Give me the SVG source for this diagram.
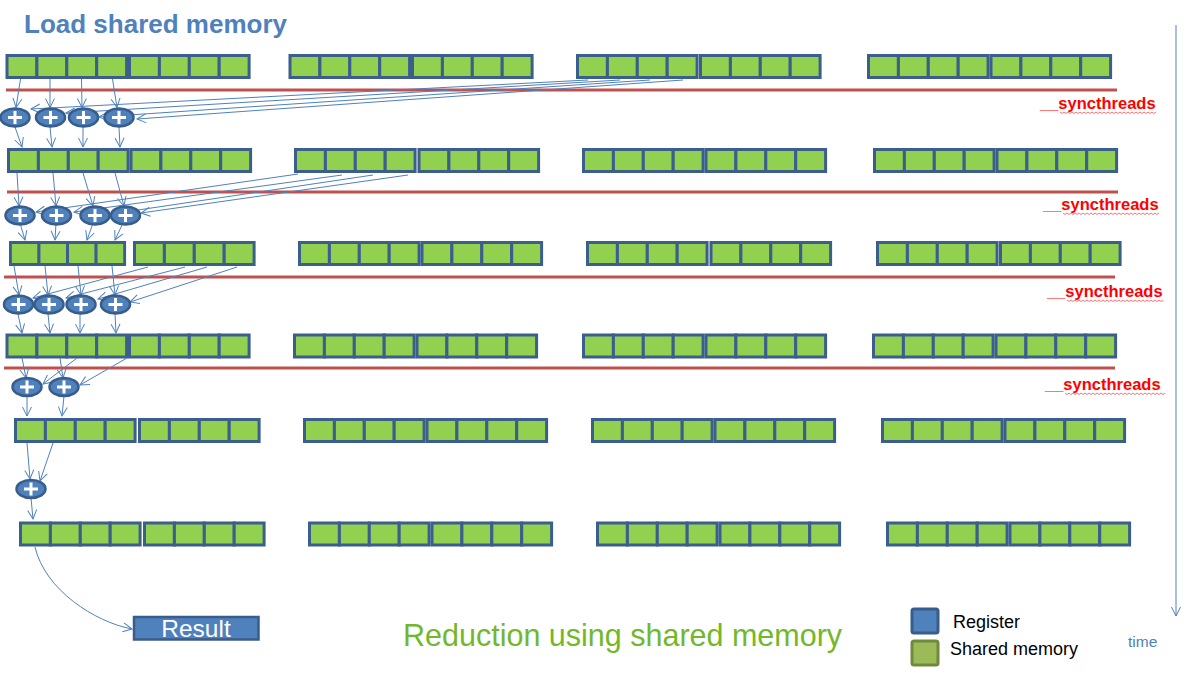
<svg xmlns="http://www.w3.org/2000/svg" xmlns:xlink="http://www.w3.org/1999/xlink" width="1191" height="688" viewBox="0 0 1191 688">
<style>
.cell{fill:#92D050;stroke:#3B5E8C;stroke-width:3}
.sync{stroke:#C0504D;stroke-width:3}
.conn{stroke:#4F81BD;stroke-width:1;fill:none;marker-end:url(#arr)}
.lbl{font-family:"Liberation Sans",Arial,sans-serif;font-weight:bold;font-size:16.5px;fill:#FF0000}
.wave{stroke:#FF0000;stroke-width:0.8;fill:none;opacity:0.7}
.pe{fill:#4F81BD;stroke:#385D8A;stroke-width:2.5}
.px{stroke:#FFFFFF;stroke-width:3}
</style>
<defs>
<marker id="arr" markerUnits="userSpaceOnUse" markerWidth="12" markerHeight="12" refX="9" refY="4.5" orient="auto" overflow="visible">
<path d="M0,0 L9,4.5 L0,9" fill="none" stroke="#4F81BD" stroke-width="1"/>
</marker>
<g id="blk">
<rect class="cell" x="1.5" y="1.5" width="29.9" height="22"/>
<rect class="cell" x="31.4" y="1.5" width="29.9" height="22"/>
<rect class="cell" x="61.3" y="1.5" width="29.9" height="22"/>
<rect class="cell" x="91.2" y="1.5" width="29.9" height="22"/>
</g>
<g id="plus">
<ellipse class="pe" cx="0" cy="0" rx="14.5" ry="9"/>
<line class="px" x1="-7" y1="0" x2="7" y2="0"/>
<line class="px" x1="0" y1="-6.5" x2="0" y2="6.5"/>
</g>
</defs>
<rect width="1191" height="688" fill="#FFFFFF"/>

<text x="24" y="33" font-family="Liberation Sans, Arial, sans-serif" font-weight="bold" font-size="26" fill="#4F81BD">Load shared memory</text>

<g id="row1">
<use xlink:href="#blk" x="5.5" y="54"/><use xlink:href="#blk" x="128" y="54"/>
<use xlink:href="#blk" x="288.5" y="54"/><use xlink:href="#blk" x="411" y="54"/>
<use xlink:href="#blk" x="576" y="54"/><use xlink:href="#blk" x="699" y="54"/>
<use xlink:href="#blk" x="867" y="54"/><use xlink:href="#blk" x="989.5" y="54"/>
</g>
<g id="row2">
<use xlink:href="#blk" x="7" y="148"/><use xlink:href="#blk" x="129.5" y="148"/>
<use xlink:href="#blk" x="294" y="148"/><use xlink:href="#blk" x="417.5" y="148"/>
<use xlink:href="#blk" x="582" y="148"/><use xlink:href="#blk" x="704.5" y="148"/>
<use xlink:href="#blk" x="873" y="148"/><use xlink:href="#blk" x="995.5" y="148"/>
</g>
<g id="row3">
<use xlink:href="#blk" transform="translate(9,241) scale(0.955,1)"/><use xlink:href="#blk" x="133" y="241"/>
<use xlink:href="#blk" x="298" y="241"/><use xlink:href="#blk" x="420.5" y="241"/>
<use xlink:href="#blk" x="586" y="241"/><use xlink:href="#blk" x="709.5" y="241"/>
<use xlink:href="#blk" x="876" y="241"/><use xlink:href="#blk" x="999" y="241"/>
</g>
<g id="row4">
<use xlink:href="#blk" x="5.5" y="333.5"/><use xlink:href="#blk" x="128" y="333.5"/>
<use xlink:href="#blk" x="293" y="333.5"/><use xlink:href="#blk" x="415.5" y="333.5"/>
<use xlink:href="#blk" x="582" y="333.5"/><use xlink:href="#blk" x="704.5" y="333.5"/>
<use xlink:href="#blk" x="872" y="333.5"/><use xlink:href="#blk" x="994.5" y="333.5"/>
</g>
<g id="row5">
<use xlink:href="#blk" x="14" y="418"/><use xlink:href="#blk" x="138" y="418"/>
<use xlink:href="#blk" x="303" y="418"/><use xlink:href="#blk" x="425.5" y="418"/>
<use xlink:href="#blk" x="591" y="418"/><use xlink:href="#blk" x="713.5" y="418"/>
<use xlink:href="#blk" x="881" y="418"/><use xlink:href="#blk" x="1003.5" y="418"/>
</g>
<g id="row6">
<use xlink:href="#blk" x="19" y="521.5"/><use xlink:href="#blk" x="143" y="521.5"/>
<use xlink:href="#blk" x="308" y="521.5"/><use xlink:href="#blk" x="430.5" y="521.5"/>
<use xlink:href="#blk" x="596" y="521.5"/><use xlink:href="#blk" x="718.5" y="521.5"/>
<use xlink:href="#blk" x="886" y="521.5"/><use xlink:href="#blk" x="1008.5" y="521.5"/>
</g>

<g id="sync-lines">
<line class="sync" x1="6" y1="90" x2="1117" y2="90"/>
<line class="sync" x1="7" y1="192" x2="1118" y2="192"/>
<line class="sync" x1="4" y1="277" x2="1115" y2="277"/>
<line class="sync" x1="4" y1="368" x2="1115" y2="368"/>
</g>
<g id="sync-labels">
<text class="lbl" x="1040" y="109">__syncthreads</text>
<path class="wave" d="M1060,112 l2,1.5 l2,-1.5 l2,1.5 l2,-1.5 l2,1.5 l2,-1.5 l2,1.5 l2,-1.5 l2,1.5 l2,-1.5 l2,1.5 l2,-1.5 l2,1.5 l2,-1.5 l2,1.5 l2,-1.5 l2,1.5 l2,-1.5 l2,1.5 l2,-1.5 l2,1.5 l2,-1.5 l2,1.5 l2,-1.5 l2,1.5 l2,-1.5 l2,1.5 l2,-1.5 l2,1.5 l2,-1.5 l2,1.5 l2,-1.5 l2,1.5 l2,-1.5 l2,1.5 l2,-1.5 l2,1.5 l2,-1.5 l2,1.5 l2,-1.5 l2,1.5 l2,-1.5 l2,1.5 l2,-1.5 l2,1.5 l2,-1.5 l2,1.5 l2,-1.5"/>
<text class="lbl" x="1043" y="210">__syncthreads</text>
<path class="wave" d="M1063,213 l2,1.5 l2,-1.5 l2,1.5 l2,-1.5 l2,1.5 l2,-1.5 l2,1.5 l2,-1.5 l2,1.5 l2,-1.5 l2,1.5 l2,-1.5 l2,1.5 l2,-1.5 l2,1.5 l2,-1.5 l2,1.5 l2,-1.5 l2,1.5 l2,-1.5 l2,1.5 l2,-1.5 l2,1.5 l2,-1.5 l2,1.5 l2,-1.5 l2,1.5 l2,-1.5 l2,1.5 l2,-1.5 l2,1.5 l2,-1.5 l2,1.5 l2,-1.5 l2,1.5 l2,-1.5 l2,1.5 l2,-1.5 l2,1.5 l2,-1.5 l2,1.5 l2,-1.5 l2,1.5 l2,-1.5 l2,1.5 l2,-1.5 l2,1.5 l2,-1.5"/>
<text class="lbl" x="1047" y="297">__syncthreads</text>
<path class="wave" d="M1067,300 l2,1.5 l2,-1.5 l2,1.5 l2,-1.5 l2,1.5 l2,-1.5 l2,1.5 l2,-1.5 l2,1.5 l2,-1.5 l2,1.5 l2,-1.5 l2,1.5 l2,-1.5 l2,1.5 l2,-1.5 l2,1.5 l2,-1.5 l2,1.5 l2,-1.5 l2,1.5 l2,-1.5 l2,1.5 l2,-1.5 l2,1.5 l2,-1.5 l2,1.5 l2,-1.5 l2,1.5 l2,-1.5 l2,1.5 l2,-1.5 l2,1.5 l2,-1.5 l2,1.5 l2,-1.5 l2,1.5 l2,-1.5 l2,1.5 l2,-1.5 l2,1.5 l2,-1.5 l2,1.5 l2,-1.5 l2,1.5 l2,-1.5 l2,1.5 l2,-1.5"/>
<text class="lbl" x="1045" y="390">__syncthreads</text>
<path class="wave" d="M1065,393 l2,1.5 l2,-1.5 l2,1.5 l2,-1.5 l2,1.5 l2,-1.5 l2,1.5 l2,-1.5 l2,1.5 l2,-1.5 l2,1.5 l2,-1.5 l2,1.5 l2,-1.5 l2,1.5 l2,-1.5 l2,1.5 l2,-1.5 l2,1.5 l2,-1.5 l2,1.5 l2,-1.5 l2,1.5 l2,-1.5 l2,1.5 l2,-1.5 l2,1.5 l2,-1.5 l2,1.5 l2,-1.5 l2,1.5 l2,-1.5 l2,1.5 l2,-1.5 l2,1.5 l2,-1.5 l2,1.5 l2,-1.5 l2,1.5 l2,-1.5 l2,1.5 l2,-1.5 l2,1.5 l2,-1.5 l2,1.5 l2,-1.5 l2,1.5 l2,-1.5 l2,1.5 l2,-1.5"/>
</g>

<g id="connectors">
<line class="conn" x1="20.5" y1="79" x2="16" y2="107.5"/>
<line class="conn" x1="50" y1="79" x2="50" y2="107.5"/>
<line class="conn" x1="81.5" y1="79" x2="82" y2="107.5"/>
<line class="conn" x1="112.5" y1="79" x2="117" y2="107.5"/>
<line class="conn" x1="588" y1="80" x2="31" y2="109"/>
<line class="conn" x1="620" y1="80" x2="66" y2="113"/>
<line class="conn" x1="650" y1="80" x2="99" y2="117"/>
<line class="conn" x1="683" y1="80" x2="137" y2="119"/>
<line class="conn" x1="15" y1="127" x2="22" y2="147"/>
<line class="conn" x1="50" y1="127" x2="52" y2="147"/>
<line class="conn" x1="83" y1="127" x2="83" y2="147"/>
<line class="conn" x1="119" y1="127" x2="120" y2="147"/>
<line class="conn" x1="17" y1="173" x2="19" y2="206"/>
<line class="conn" x1="53" y1="173" x2="56" y2="206"/>
<line class="conn" x1="83" y1="173" x2="93" y2="206"/>
<line class="conn" x1="115" y1="173" x2="124" y2="206"/>
<line class="conn" x1="298" y1="174" x2="36" y2="212"/>
<line class="conn" x1="342" y1="175" x2="74" y2="212"/>
<line class="conn" x1="373" y1="175" x2="111" y2="214"/>
<line class="conn" x1="408" y1="175" x2="141" y2="213"/>
<line class="conn" x1="20" y1="223" x2="25" y2="240"/>
<line class="conn" x1="56" y1="223" x2="55" y2="240"/>
<line class="conn" x1="93" y1="223" x2="87" y2="240"/>
<line class="conn" x1="123" y1="223" x2="115" y2="240"/>
<line class="conn" x1="14" y1="266" x2="19" y2="295"/>
<line class="conn" x1="45" y1="266" x2="48" y2="295"/>
<line class="conn" x1="78" y1="266" x2="81" y2="295"/>
<line class="conn" x1="112" y1="266" x2="115" y2="295"/>
<line class="conn" x1="148" y1="267" x2="33" y2="298"/>
<line class="conn" x1="185" y1="267" x2="66" y2="298"/>
<line class="conn" x1="207" y1="267" x2="98" y2="299"/>
<line class="conn" x1="237" y1="267" x2="130" y2="302"/>
<line class="conn" x1="18" y1="314" x2="22" y2="333"/>
<line class="conn" x1="48" y1="314" x2="50" y2="333"/>
<line class="conn" x1="80" y1="314" x2="80" y2="333"/>
<line class="conn" x1="115" y1="314" x2="116" y2="333"/>
<line class="conn" x1="22" y1="358" x2="26" y2="378"/>
<line class="conn" x1="60" y1="358" x2="63" y2="378"/>
<line class="conn" x1="77" y1="358" x2="43" y2="384"/>
<line class="conn" x1="127" y1="358" x2="80" y2="385"/>
<line class="conn" x1="27" y1="396" x2="27" y2="416"/>
<line class="conn" x1="64" y1="396" x2="62" y2="416"/>
<line class="conn" x1="27" y1="443" x2="30" y2="479"/>
<line class="conn" x1="53" y1="443" x2="40" y2="481"/>
<line class="conn" x1="31" y1="498" x2="33" y2="519"/>
<path class="conn" d="M35,547 C45,590 95,622 132,629"/>
<line class="conn" x1="1176" y1="25" x2="1176" y2="616"/>
</g>

<g id="plus-row1">
<use xlink:href="#plus" x="15" y="117.5"/>
<use xlink:href="#plus" x="50.5" y="117.5"/>
<use xlink:href="#plus" x="83.5" y="117.5"/>
<use xlink:href="#plus" x="119" y="117.5"/>
</g>
<g id="plus-row2">
<use xlink:href="#plus" x="20" y="215.5"/>
<use xlink:href="#plus" x="56.5" y="215.5"/>
<use xlink:href="#plus" x="95" y="215.5"/>
<use xlink:href="#plus" x="125.5" y="215.5"/>
</g>
<g id="plus-row3">
<use xlink:href="#plus" x="18.5" y="304.5"/>
<use xlink:href="#plus" x="49" y="304.5"/>
<use xlink:href="#plus" x="81" y="304.5"/>
<use xlink:href="#plus" x="115.5" y="304.5"/>
</g>
<g id="plus-row4">
<use xlink:href="#plus" x="27" y="387"/>
<use xlink:href="#plus" x="64" y="387"/>
</g>
<g id="plus-row5">
<use xlink:href="#plus" x="31" y="489"/>
</g>

<g id="result">
<rect x="134" y="617" width="124.5" height="22.5" fill="#4F81BD" stroke="#385D8A" stroke-width="2.5"/>
<text x="196" y="637" text-anchor="middle" font-family="Liberation Sans, Arial, sans-serif" font-size="24.5" fill="#FFFFFF">Result</text>
</g>

<text x="403" y="646" font-family="Liberation Sans, Arial, sans-serif" font-size="30.5" fill="#72B82A">Reduction using shared memory</text>

<g id="legend">
<rect x="912" y="609" width="26" height="24" rx="2" fill="#4F81BD" stroke="#385D8A" stroke-width="3"/>
<text x="953" y="628" font-family="Liberation Sans, Arial, sans-serif" font-size="18" fill="#000000">Register</text>
<rect x="912" y="641" width="26" height="24" rx="2" fill="#9BBB59" stroke="#71893F" stroke-width="3"/>
<text x="950" y="655" font-family="Liberation Sans, Arial, sans-serif" font-size="18" fill="#000000">Shared memory</text>
</g>

<text x="1128" y="647" font-family="Liberation Sans, Arial, sans-serif" font-size="15.5" fill="#4F81BD">time</text>
</svg>
